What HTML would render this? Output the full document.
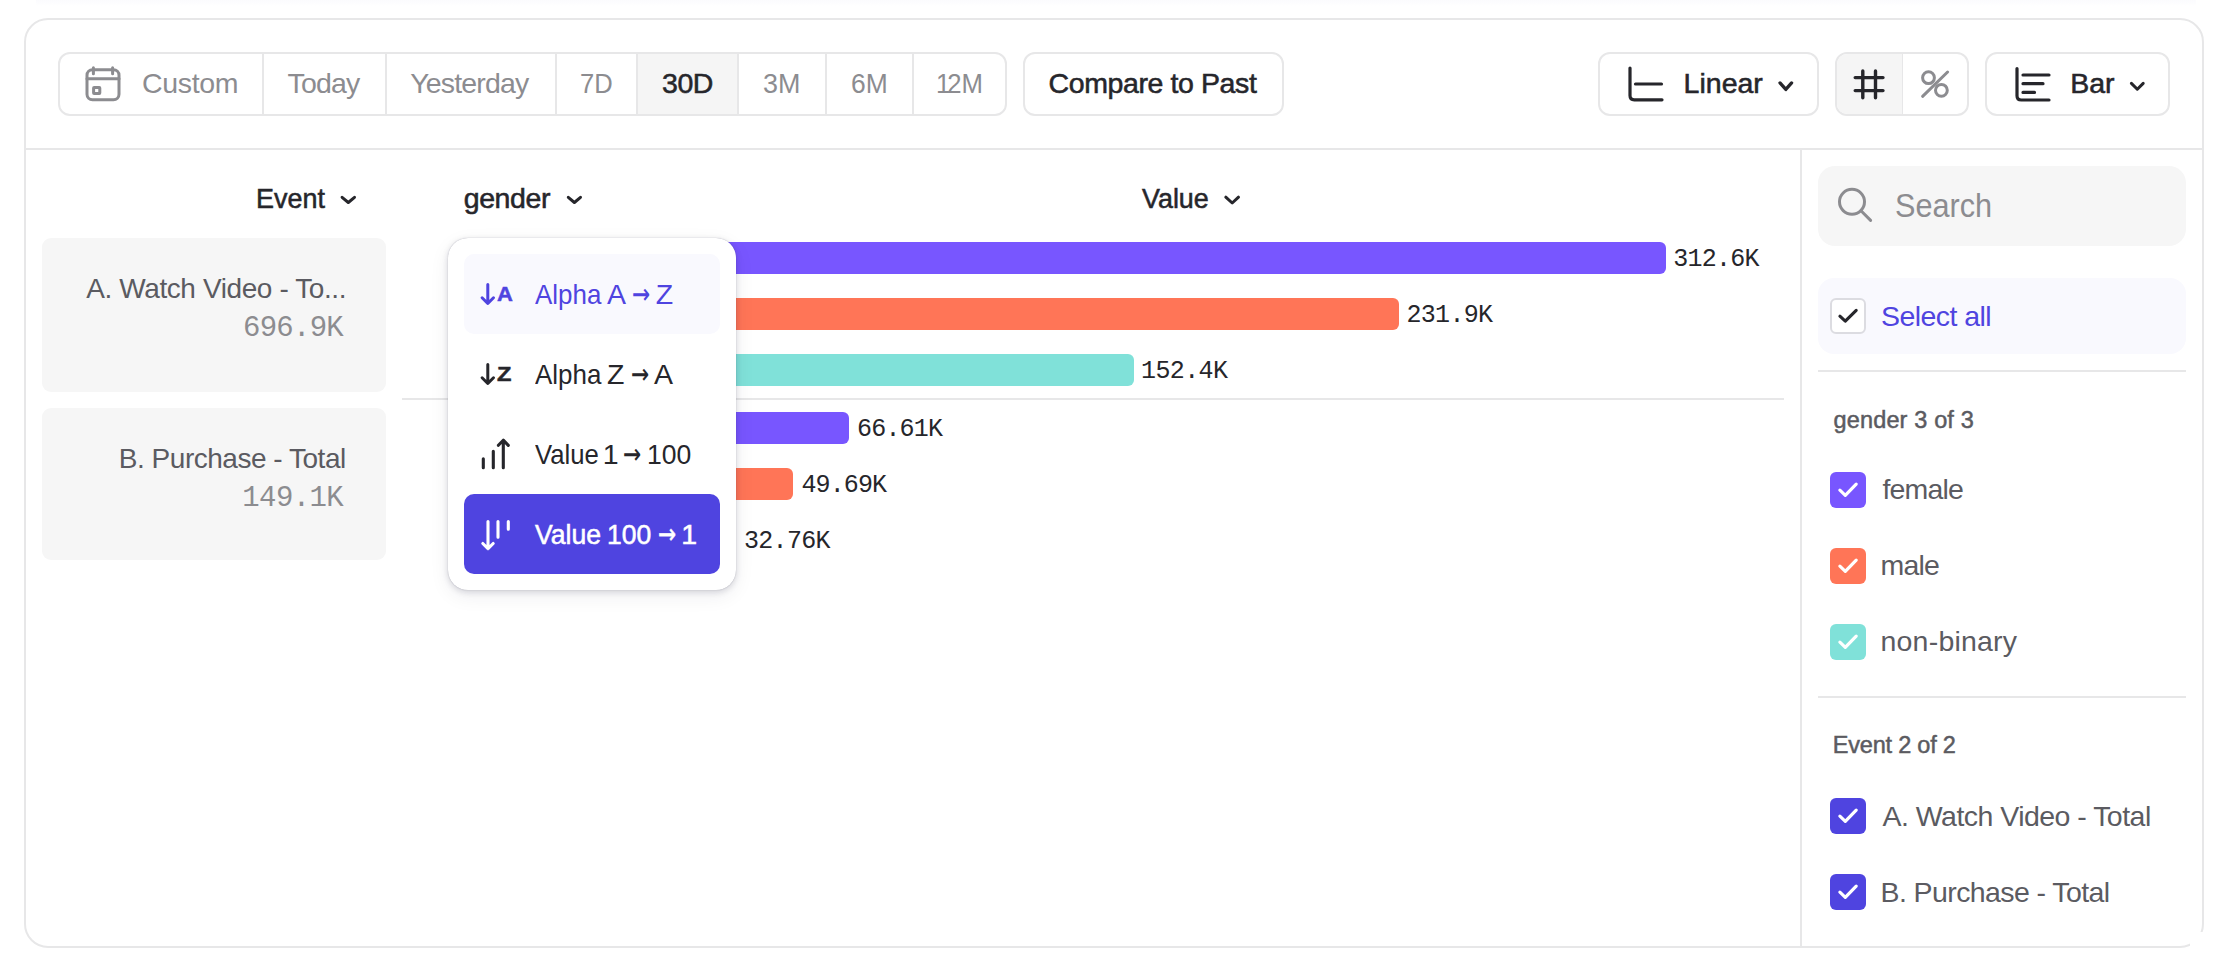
<!DOCTYPE html>
<html lang="en">
<head>
<meta charset="utf-8">
<title>Insights report</title>
<style>
html,body{margin:0;padding:0;background:#fff;}
body{width:2234px;height:974px;position:relative;overflow:hidden;font-family:"Liberation Sans",sans-serif;}
.g{position:absolute;left:0;top:0;width:2234px;height:974px;margin:0;padding:0;pointer-events:none;}
.g>*{position:absolute;box-sizing:border-box;}
.t{line-height:1;white-space:pre;}
svg{left:0;top:0;overflow:visible;}
svg path,svg line,svg circle,svg rect,svg polyline{fill:none;stroke-linecap:round;stroke-linejoin:round;}
.b{border:2px solid #e7e7e8;background:#fff;border-radius:12px;}
.bar{height:32px;border-radius:0 6px 6px 0;}
.cb{width:36px;height:36px;border-radius:6px;}
</style>
</head>
<body>

<main class="g card">
<div style="left:24px;top:18px;width:2180px;height:930px;border:2px solid #e7e7e8;border-radius:24px;background:#fff;"></div>
<div style="left:36px;top:0px;width:2160px;height:6px;background:linear-gradient(rgba(228,228,245,.15),rgba(225,225,245,0));"></div>
<div style="left:26px;top:148px;width:2176px;height:2px;background:#e7e7e8;"></div>
<div style="left:1800px;top:150px;width:2px;height:796px;background:#e7e7e8;"></div>
<div style="left:2190px;top:932px;width:20px;height:20px;background:#fff;"></div>
</main>
<header class="g toolbar">
<div class="b" style="left:58px;top:52px;width:949px;height:64px;overflow:hidden;"></div>
<div style="left:638px;top:54px;width:100px;height:60px;background:#f5f5f5;"></div>
<div style="left:262px;top:54px;width:2px;height:60px;background:#e7e7e8;"></div>
<div style="left:385px;top:54px;width:2px;height:60px;background:#e7e7e8;"></div>
<div style="left:555px;top:54px;width:2px;height:60px;background:#e7e7e8;"></div>
<div style="left:636px;top:54px;width:2px;height:60px;background:#e7e7e8;"></div>
<div style="left:737px;top:54px;width:2px;height:60px;background:#e7e7e8;"></div>
<div style="left:825px;top:54px;width:2px;height:60px;background:#e7e7e8;"></div>
<div style="left:912px;top:54px;width:2px;height:60px;background:#e7e7e8;"></div>
<div class="b" style="left:1023px;top:52px;width:261px;height:64px;"></div>
<div class="b" style="left:1598px;top:52px;width:221px;height:64px;"></div>
<div class="b" style="left:1835px;top:52px;width:134px;height:64px;"></div>
<div style="left:1837px;top:54px;width:65px;height:60px;background:#f5f5f5;border-radius:10px 0 0 10px;"></div>
<div style="left:1901.5px;top:54px;width:1.5px;height:60px;background:#e7e7e8;"></div>
<div class="b" style="left:1985px;top:52px;width:185px;height:64px;"></div>
<span class="t" style="left:141.9px;top:67px;line-height:32px;font-size:28.5px;color:#8c8c90;letter-spacing:-0.30px;">Custom</span>
<span class="t" style="left:287.6px;top:67px;line-height:32px;font-size:28.5px;color:#8c8c90;letter-spacing:-0.83px;">Today</span>
<span class="t" style="left:410.3px;top:67px;line-height:32px;font-size:28.5px;color:#8c8c90;letter-spacing:-0.85px;">Yesterday</span>
<span class="t" style="left:579.6px;top:67px;line-height:32px;font-size:28.5px;color:#8c8c90;transform:scaleX(0.897);transform-origin:0 50%;">7D</span>
<span class="t" style="left:662.1px;top:67px;line-height:32px;font-size:28.5px;color:#26262b;letter-spacing:-0.55px;-webkit-text-stroke:0.55px #26262b;">30D</span>
<span class="t" style="left:763.4px;top:67px;line-height:32px;font-size:28.5px;color:#8c8c90;transform:scaleX(0.944);transform-origin:0 50%;">3M</span>
<span class="t" style="left:850.8px;top:67px;line-height:32px;font-size:28.5px;color:#8c8c90;transform:scaleX(0.928);transform-origin:0 50%;">6M</span>
<span class="t" style="left:936.2px;top:67px;line-height:32px;font-size:28.5px;color:#8c8c90;transform:scaleX(0.902);transform-origin:0 50%;"><span style="letter-spacing:-3.5px">1</span>2M</span>
<span class="t" style="left:1048.6px;top:67px;line-height:32px;font-size:28.5px;color:#26262b;letter-spacing:-0.40px;-webkit-text-stroke:0.55px #26262b;">Compare to Past</span>
<span class="t" style="left:1683.6px;top:67px;line-height:32px;font-size:28.5px;color:#26262b;-webkit-text-stroke:0.55px #26262b;">Linear</span>
<span class="t" style="left:2070.3px;top:67px;line-height:32px;font-size:28.5px;color:#26262b;letter-spacing:-0.05px;-webkit-text-stroke:0.55px #26262b;">Bar</span>
<svg width="2234" height="974" viewBox="0 0 2234 974" aria-hidden="true">
<g stroke="#8c8c90" stroke-width="3"><rect x="87" y="69.7" width="32" height="30" rx="5.5"/><path d="M87 78.7H119M93.4 67.8V73.8M112.6 67.8V73.8"/><rect x="93.6" y="87.5" width="6.2" height="5.9" rx="0.5"/></g>
<g stroke="#26262b" stroke-width="3.2"><path d="M1630 68V95.5Q1630 99.8 1634.3 99.8H1662"/><path d="M1635.5 84H1661.5"/></g>
<path d="M1780.0 82.9L1785.8 89.4L1791.6 82.9" stroke="#26262b" stroke-width="3.3"/>
<g stroke="#26262b" stroke-width="3.4"><path d="M1862.8 71V97.7M1875.5 71V97.7M1855.2 77.6H1883M1855.2 90.6H1883"/></g>
<g stroke="#8c8c90" stroke-width="3"><circle cx="1928.5" cy="77.7" r="5.9"/><circle cx="1941.4" cy="90.3" r="5.9"/><path d="M1922.6 96.3L1947.6 72"/></g>
<g stroke="#26262b" stroke-width="3.2"><path d="M2017 68.5V95.7Q2017 100 2021.3 100H2049"/><path d="M2023 75H2049M2023 83.7H2043M2023 92.4H2034.5"/></g>
<path d="M2131.4 83.4L2137.3 89.2L2143.2 83.4" stroke="#26262b" stroke-width="3"/>
</svg>
</header>
<section class="g chart">
<div style="left:42px;top:238px;width:344px;height:154px;background:#f6f6f6;border-radius:9px;"></div>
<div style="left:42px;top:408px;width:344px;height:152px;background:#f6f6f6;border-radius:9px;"></div>
<div style="left:402px;top:398px;width:1382px;height:2px;background:#e7e7e8;"></div>
<div class="bar" style="left:456px;top:242px;width:1210px;height:32px;background:#7856ff;"></div>
<div class="bar" style="left:456px;top:298px;width:943px;height:32px;background:#ff7557;"></div>
<div class="bar" style="left:456px;top:354px;width:678px;height:32px;background:#80e1d9;"></div>
<div class="bar" style="left:456px;top:412px;width:393px;height:32px;background:#7856ff;"></div>
<div class="bar" style="left:456px;top:468px;width:337px;height:32px;background:#ff7557;"></div>
<div class="bar" style="left:456px;top:524px;width:280px;height:32px;background:#80e1d9;"></div>
<span class="t" style="left:256.0px;top:182px;line-height:32px;font-size:28.5px;color:#26262b;-webkit-text-stroke:0.55px #26262b;transform:scaleX(0.945);transform-origin:0 50%;">Event</span>
<span class="t" style="left:463.7px;top:182px;line-height:32px;font-size:28.5px;color:#26262b;letter-spacing:-0.40px;-webkit-text-stroke:0.55px #26262b;">gender</span>
<span class="t" style="left:1142.0px;top:182px;line-height:32px;font-size:28.5px;color:#26262b;-webkit-text-stroke:0.55px #26262b;transform:scaleX(0.943);transform-origin:0 50%;">Value</span>
<span class="t" style="left:86.2px;top:273px;line-height:31px;font-size:28px;color:#5b5b61;letter-spacing:-0.40px;">A. Watch Video - To...</span>
<span class="t" style="left:243.0px;top:312px;line-height:33px;font-size:29px;color:#8c8c90;letter-spacing:-0.74px;font-family:'Liberation Mono', monospace;">696.9K</span>
<span class="t" style="left:118.8px;top:443px;line-height:31px;font-size:28px;color:#5b5b61;letter-spacing:-0.48px;">B. Purchase - Total</span>
<span class="t" style="left:242.3px;top:482px;line-height:33px;font-size:29px;color:#8c8c90;letter-spacing:-0.60px;font-family:'Liberation Mono', monospace;">149.1K</span>
<span class="t" style="left:1673.2px;top:245px;line-height:29px;font-size:25px;color:#26262b;letter-spacing:-0.74px;font-family:'Liberation Mono', monospace;">312.6K</span>
<span class="t" style="left:1406.5px;top:301px;line-height:29px;font-size:25px;color:#26262b;letter-spacing:-0.70px;font-family:'Liberation Mono', monospace;">231.9K</span>
<span class="t" style="left:1141.0px;top:357px;line-height:29px;font-size:25px;color:#26262b;letter-spacing:-0.60px;font-family:'Liberation Mono', monospace;">152.4K</span>
<span class="t" style="left:857.0px;top:415px;line-height:29px;font-size:25px;color:#26262b;letter-spacing:-0.80px;font-family:'Liberation Mono', monospace;">66.61K</span>
<span class="t" style="left:801.5px;top:471px;line-height:29px;font-size:25px;color:#26262b;letter-spacing:-0.90px;font-family:'Liberation Mono', monospace;">49.69K</span>
<span class="t" style="left:744.0px;top:527px;line-height:29px;font-size:25px;color:#26262b;letter-spacing:-0.70px;font-family:'Liberation Mono', monospace;">32.76K</span>
<svg width="2234" height="974" viewBox="0 0 2234 974" aria-hidden="true">
<path d="M342.1 197.3L348.3 202.5L354.5 197.3" stroke="#26262b" stroke-width="3"/>
<path d="M568.3 197.3L574.4 202.5L580.5 197.3" stroke="#26262b" stroke-width="3"/>
<path d="M1225.8 197.2L1232.2 203.0L1238.5 197.2" stroke="#26262b" stroke-width="3"/>
</svg>
</section>
<aside class="g legend">
<div style="left:1818px;top:166px;width:368px;height:80px;background:#f6f6f6;border-radius:17px;"></div>
<div style="left:1818px;top:278px;width:368px;height:76px;background:#f9f9fe;border-radius:16px;"></div>
<div class="cb" style="left:1830px;top:298px;width:36px;height:36px;background:#fff;border:2px solid #dcdce1;"></div>
<div style="left:1818px;top:370px;width:368px;height:2px;background:#e7e7e8;"></div>
<div style="left:1818px;top:696px;width:368px;height:2px;background:#e7e7e8;"></div>
<div class="cb" style="left:1830px;top:472px;width:36px;height:36px;background:#7856ff;"></div>
<div class="cb" style="left:1830px;top:548px;width:36px;height:36px;background:#ff7557;"></div>
<div class="cb" style="left:1830px;top:624px;width:36px;height:36px;background:#80e1d9;"></div>
<div class="cb" style="left:1830px;top:798px;width:36px;height:36px;background:#4f44e0;"></div>
<div class="cb" style="left:1830px;top:874px;width:36px;height:36px;background:#4f44e0;"></div>
<span class="t" style="left:1895.4px;top:188px;line-height:36px;font-size:32.5px;color:#8c8c90;transform:scaleX(0.943);transform-origin:0 50%;">Search</span>
<span class="t" style="left:1881.1px;top:300px;line-height:32px;font-size:28.5px;color:#4f44e0;letter-spacing:-0.57px;">Select all</span>
<span class="t" style="left:1833.5px;top:407px;line-height:26px;font-size:23.5px;color:#5b5b61;letter-spacing:0.15px;-webkit-text-stroke:0.5px #5b5b61;">gender 3 of 3</span>
<span class="t" style="left:1882.5px;top:473px;line-height:32px;font-size:28.5px;color:#5b5b61;letter-spacing:-0.84px;">female</span>
<span class="t" style="left:1880.5px;top:549px;line-height:32px;font-size:28.5px;color:#5b5b61;letter-spacing:-0.77px;">male</span>
<span class="t" style="left:1880.5px;top:625px;line-height:32px;font-size:28.5px;color:#5b5b61;letter-spacing:0.21px;">non-binary</span>
<span class="t" style="left:1832.8px;top:732px;line-height:26px;font-size:23.5px;color:#5b5b61;letter-spacing:-0.21px;-webkit-text-stroke:0.5px #5b5b61;">Event 2 of 2</span>
<span class="t" style="left:1882.5px;top:800px;line-height:32px;font-size:28.5px;color:#5b5b61;letter-spacing:-0.53px;">A. Watch Video - Total</span>
<span class="t" style="left:1880.5px;top:876px;line-height:32px;font-size:28.5px;color:#5b5b61;letter-spacing:-0.59px;">B. Purchase - Total</span>
<svg width="2234" height="974" viewBox="0 0 2234 974" aria-hidden="true">
<g stroke="#8c8c90" stroke-width="3"><circle cx="1852" cy="201.8" r="12.5"/><path d="M1861 210.8L1870.6 220.4"/></g>
<path d="M1839.9 316.2L1845.3 321.2L1856.2 310.3" stroke="#26262b" stroke-width="3.1"/>
<path d="M1839.9 490.2L1845.3 495.3L1856.2 484.1" stroke="#fff" stroke-width="3.2"/>
<path d="M1839.9 566.2L1845.3 571.3L1856.2 560.1" stroke="#fff" stroke-width="3.2"/>
<path d="M1839.9 642.2L1845.3 647.3L1856.2 636.1" stroke="#fff" stroke-width="3.2"/>
<path d="M1839.9 816.2L1845.3 821.3L1856.2 810.1" stroke="#fff" stroke-width="3.2"/>
<path d="M1839.9 892.2L1845.3 897.3L1856.2 886.1" stroke="#fff" stroke-width="3.2"/>
</svg>
</aside>
<nav class="g menu">
<div style="left:448px;top:238px;width:288px;height:352px;background:#fff;border-radius:20px;box-shadow:0 0 1px rgba(20,20,50,.36),0 2px 6px rgba(20,20,50,.15),0 6px 20px rgba(20,20,50,.07);"></div>
<div style="left:464px;top:254px;width:256px;height:80px;background:#f9f9fe;border-radius:10px;"></div>
<div style="left:464px;top:494px;width:256px;height:80px;background:#4f44e0;border-radius:10px;"></div>
<svg width="2234" height="974" viewBox="0 0 2234 974" aria-hidden="true">
<path d="M487.8 284.5V303.3M482.1 297.8L487.8 303.5L493.5 297.8" stroke="#4f44e0" stroke-width="3"/>
<path d="M487.8 364.5V383.3M482.1 377.8L487.8 383.5L493.5 377.8" stroke="#26262b" stroke-width="3"/>
<path d="M483.3 458.8V467.8M493.3 451.2V467.8M503.3 440.2V467.8M498.4 445.3L503.3 440.2L508.3 445.3" stroke="#26262b" stroke-width="3.1"/>
<path d="M488 521.5V548.4M482.8 543.5L488 548.7L493.2 543.5M498 521.5V537.2M508.3 521.5V529.2" stroke="#fff" stroke-width="3.1"/>
</svg>
<span class="t" style="left:496.8px;top:282px;line-height:23px;font-size:20.5px;font-weight:700;color:#4f44e0;-webkit-text-stroke:0.5px #4f44e0;transform:scaleX(1.07);transform-origin:0 50%;">A</span>
<span class="t" style="left:497.0px;top:362px;line-height:23px;font-size:20.5px;font-weight:700;color:#26262b;-webkit-text-stroke:0.5px #26262b;transform:scaleX(1.15);transform-origin:0 50%;">Z</span>
<div class="g item">
<span class="t" style="left:534.6px;top:278px;line-height:32px;font-size:28.5px;color:#4f44e0;transform:scaleX(0.910);transform-origin:0 50%;">Alpha </span>
<span class="t" style="left:607.1px;top:278px;line-height:32px;font-size:28.5px;color:#4f44e0;">A </span>
<span class="t" style="left:629.8px;top:278px;line-height:32px;font-size:28.5px;color:#4f44e0;"><span style="display:inline-block;position:relative;top:1px;font-family:'DejaVu Sans Mono',monospace;font-size:37px;line-height:0.6;letter-spacing:0;transform:scaleX(0.8)">→</span> </span>
<span class="t" style="left:655.7px;top:278px;line-height:32px;font-size:28.5px;color:#4f44e0;">Z</span>
</div>
<div class="g item">
<span class="t" style="left:534.6px;top:358px;line-height:32px;font-size:28.5px;color:#26262b;transform:scaleX(0.910);transform-origin:0 50%;">Alpha </span>
<span class="t" style="left:607.1px;top:358px;line-height:32px;font-size:28.5px;color:#26262b;">Z </span>
<span class="t" style="left:628.5px;top:358px;line-height:32px;font-size:28.5px;color:#26262b;"><span style="display:inline-block;position:relative;top:1px;font-family:'DejaVu Sans Mono',monospace;font-size:37px;line-height:0.6;letter-spacing:0;transform:scaleX(0.8)">→</span> </span>
<span class="t" style="left:653.9px;top:358px;line-height:32px;font-size:28.5px;color:#26262b;">A</span>
</div>
<div class="g item">
<span class="t" style="left:534.6px;top:438px;line-height:32px;font-size:28.5px;color:#26262b;transform:scaleX(0.901);transform-origin:0 50%;">Value </span>
<span class="t" style="left:602.8px;top:438px;line-height:32px;font-size:28.5px;color:#26262b;">1 </span>
<span class="t" style="left:620.5px;top:438px;line-height:32px;font-size:28.5px;color:#26262b;"><span style="display:inline-block;position:relative;top:1px;font-family:'DejaVu Sans Mono',monospace;font-size:37px;line-height:0.6;letter-spacing:0;transform:scaleX(0.8)">→</span> </span>
<span class="t" style="left:646.5px;top:438px;line-height:32px;font-size:28.5px;color:#26262b;transform:scaleX(0.932);transform-origin:0 50%;">100</span>
</div>
<div class="g item">
<span class="t" style="left:534.6px;top:518px;line-height:32px;font-size:28.5px;color:#ffffff;-webkit-text-stroke:0.55px #ffffff;transform:scaleX(0.934);transform-origin:0 50%;">Value </span>
<span class="t" style="left:606.9px;top:518px;line-height:32px;font-size:28.5px;color:#ffffff;-webkit-text-stroke:0.55px #ffffff;transform:scaleX(0.931);transform-origin:0 50%;">100 </span>
<span class="t" style="left:656.3px;top:518px;line-height:32px;font-size:28.5px;color:#ffffff;-webkit-text-stroke:0.3px #ffffff;"><span style="display:inline-block;position:relative;top:1px;font-family:'DejaVu Sans Mono',monospace;font-size:37px;line-height:0.6;letter-spacing:0;transform:scaleX(0.8)">→</span> </span>
<span class="t" style="left:681.2px;top:518px;line-height:32px;font-size:28.5px;color:#ffffff;-webkit-text-stroke:0.55px #ffffff;">1</span>
</div>
</nav>
</body>
</html>
